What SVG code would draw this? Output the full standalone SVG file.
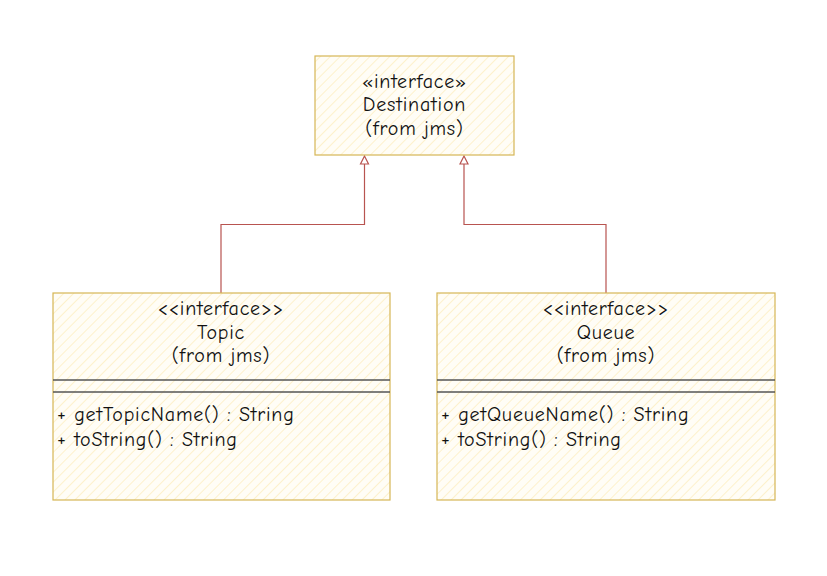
<svg xmlns="http://www.w3.org/2000/svg" width="827" height="576" viewBox="0 0 827 576">
<defs>
<pattern id="hatch" width="7" height="7" patternUnits="userSpaceOnUse" patternTransform="rotate(45)">
<rect width="7" height="7" fill="#fffdf6"/>
<line x1="0" y1="0" x2="0" y2="7" stroke="#fdf0c8" stroke-width="1.8"/>
</pattern>
</defs>
<style>
.box{fill:url(#hatch);stroke:#d6b656;stroke-width:1.2}
.sep{stroke:#555;stroke-width:1.5}
.t{font-family:"Comic Neue","Liberation Sans",sans-serif;font-size:20px;letter-spacing:0.8px;fill:#111}
.c{text-anchor:middle}
.edge{fill:none;stroke:#b85450;stroke-width:1.2}
.head{fill:#fff;stroke:#b85450;stroke-width:1.2}
</style>
<rect width="827" height="576" fill="#fff"/>
<g id="connectors">
<path class="edge" d="M221 293 V224.5 H364.5 V164"/>
<polygon class="head" points="364.5,156 360.5,164 368.5,164"/>
<path class="edge" d="M606 293 V224.5 H464 V164"/>
<polygon class="head" points="464,156 460,164 468,164"/>
</g>
<g id="destination">
<rect class="box" x="315" y="56" width="199" height="99"/>
<text class="t c" x="414.5" y="88">«interface»</text>
<text class="t c" x="414.5" y="111">Destination</text>
<text class="t c" x="414.5" y="135">(from jms)</text>
</g>
<g id="topic">
<rect class="box" x="53" y="293" width="337" height="207"/>
<line class="sep" x1="53" y1="380" x2="390" y2="380"/>
<line class="sep" x1="53" y1="392" x2="390" y2="392"/>
<text class="t c" x="221" y="315">&lt;&lt;interface&gt;&gt;</text>
<text class="t c" x="221" y="339">Topic</text>
<text class="t c" x="221" y="362">(from jms)</text>
<text class="t" x="57" y="421">+ getTopicName() : String</text>
<text class="t" x="57" y="446">+ toString() : String</text>
</g>
<g id="queue">
<rect class="box" x="437" y="293" width="338" height="207"/>
<line class="sep" x1="437" y1="380" x2="775" y2="380"/>
<line class="sep" x1="437" y1="392" x2="775" y2="392"/>
<text class="t c" x="606" y="315">&lt;&lt;interface&gt;&gt;</text>
<text class="t c" x="606" y="339">Queue</text>
<text class="t c" x="606" y="362">(from jms)</text>
<text class="t" x="441" y="421">+ getQueueName() : String</text>
<text class="t" x="441" y="446">+ toString() : String</text>
</g>
</svg>
